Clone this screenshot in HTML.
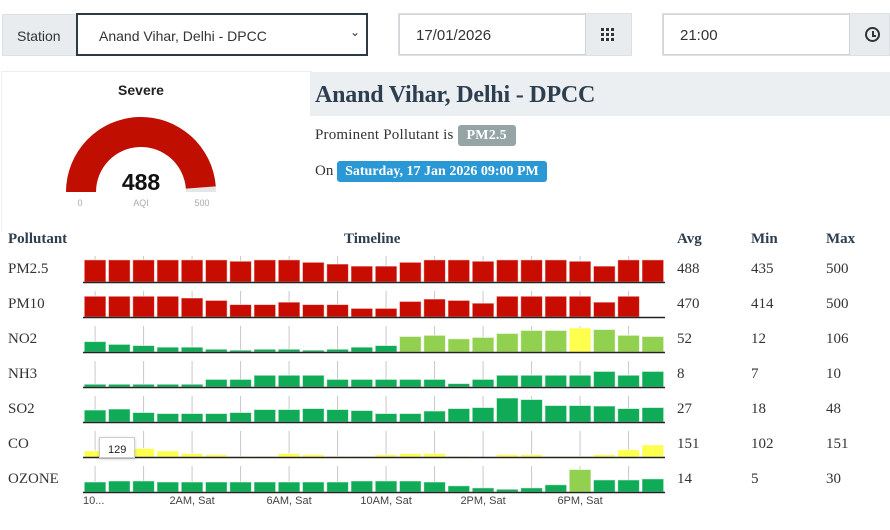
<!DOCTYPE html>
<html><head><meta charset="utf-8">
<style>
body{margin:0;width:890px;height:530px;background:#fff;overflow:hidden;position:relative;font-family:"Liberation Serif",serif;color:#222}
.abs{position:absolute}
.grp{background:#e9ecef;border:1px solid #dde1e5;box-sizing:border-box}
.inp{background:#fff;border:1px solid #ced4da;box-sizing:border-box;font-size:15px;padding:12px 0 0 16px;font-family:"Liberation Sans",sans-serif;color:#333}
.hd{font-weight:bold;font-size:15px;color:#2c3e50}
.lab{font-size:15px;color:#333}
</style></head><body>
<div class="abs grp" style="left:2px;top:14px;width:76px;height:42px;font-family:'Liberation Sans',sans-serif;font-size:14px;padding:13px 0 0 14px;color:#333">Station</div>
<div class="abs inp" style="left:76px;top:13px;width:292px;height:43px;border:2px solid #2b3a45;font-size:14px;padding:13px 0 0 21px">Anand Vihar, Delhi - DPCC<span style="position:absolute;right:6px;top:10px;font-size:12px">&#8964;</span></div>
<div class="abs grp" style="left:398px;top:13px;width:234px;height:43px"></div>
<div class="abs inp" style="left:399px;top:14px;width:187px;height:41px">17/01/2026</div>
<div class="abs" style="left:601px;top:28px;width:13px;height:13px;background:repeating-linear-gradient(90deg,#333 0 3px,transparent 3px 5px),#fff;-webkit-mask:repeating-linear-gradient(0deg,#000 0 3px,transparent 3px 5px)"></div>
<div class="abs grp" style="left:662px;top:13px;width:228px;height:43px"></div>
<div class="abs inp" style="left:663px;top:14px;width:187px;height:41px">21:00</div>
<div class="abs" style="left:865px;top:27px;width:11px;height:11px;border:2px solid #333;border-radius:50%"><div style="position:absolute;left:5px;top:2px;width:2px;height:5px;background:#333"></div><div style="position:absolute;left:5px;top:6px;width:4px;height:2px;background:#333"></div></div>

<div class="abs" style="left:1px;top:71px;width:310px;height:160px;border:1px solid #eee;border-bottom:none;border-right:none"></div>
<div class="abs" style="left:91px;top:82px;width:100px;text-align:center;font-family:'Liberation Sans',sans-serif;font-weight:bold;font-size:14px">Severe</div>
<svg class="abs" style="left:0;top:110px" width="300" height="110">
<path d="M66 82 A75 75 0 0 1 216 82 L186 82 A45 45 0 0 0 96 82 Z" fill="#e6e6e6"/>
<path id="garc" fill="#c00f00"/>
<text x="141" y="80" text-anchor="middle" font-family="Liberation Sans" font-weight="bold" font-size="23" fill="#111">488</text>
<text x="80" y="96" text-anchor="middle" font-family="Liberation Sans" font-size="9" fill="#aaa">0</text>
<text x="141" y="96" text-anchor="middle" font-family="Liberation Sans" font-size="9" fill="#aaa">AQI</text>
<text x="202" y="96" text-anchor="middle" font-family="Liberation Sans" font-size="9" fill="#aaa">500</text>
</svg>
<div class="abs" style="left:310px;top:72px;width:580px;height:44px;background:#eceff1"></div>
<div class="abs" style="left:315px;top:82px;font-weight:bold;font-size:24px;color:#2c3e50;letter-spacing:-0.2px">Anand Vihar, Delhi - DPCC</div>
<div class="abs lab" style="left:315px;top:127px;letter-spacing:0.2px">Prominent Pollutant is <span style="background:#95a5a6;color:#fff;font-weight:bold;padding:3px 9px;border-radius:3px;font-size:14px">PM2.5</span></div>
<div class="abs lab" style="left:315px;top:163px">On <span style="background:#2b98d6;color:#fff;font-weight:bold;padding:3px 8px;border-radius:3px;font-size:14px">Saturday, 17 Jan 2026 09:00 PM</span></div>

<div class="abs hd" style="left:8px;top:231px">Pollutant</div>
<div class="abs hd" style="left:344px;top:231px">Timeline</div>
<div class="abs hd" style="left:677px;top:231px">Avg</div>
<div class="abs hd" style="left:751px;top:231px">Min</div>
<div class="abs hd" style="left:826px;top:231px">Max</div>
<div id="rows"></div>
<svg id="chart" class="abs" style="left:0;top:0" width="890" height="530"></svg>
<div class="abs" style="left:99px;top:437px;width:36px;height:21px;background:#fff;border:1px solid #ccc;box-shadow:0 1px 3px rgba(0,0,0,.2);font-family:'Liberation Sans',sans-serif;font-size:11px;padding:6px 0 0 8px;box-sizing:border-box">129</div>
<script>
const aqi = 488, aqiMax = 500;
const pollutants = ["PM2.5","PM10","NO2","NH3","SO2","CO","OZONE"];
const avgVals = [488,470,52,8,27,151,14];
const minVals = [435,414,12,7,18,102,5];
const maxVals = [500,500,106,10,48,151,30];
const pm25 = [500,500,500,500,500,500,469,500,500,445,406,359,359,445,500,500,469,500,500,500,469,359,500,500];
const pm10 = [500,500,500,500,458,400,300,300,358,300,300,208,208,375,433,400,333,500,500,500,500,358,500,0];
const no2 = [45,33,28,21,21,12,8,12,12,8,12,21,28,67,72,57,63,80,93,93,104,97,72,67];
const nh3 = [8,8,8,8,8,22,22,34,34,34,22,22,22,22,22,10,22,34,34,34,34,45,34,45];
const so2 = [24,26,19,17,17,17,19,25,25,27,25,23,17,17,22,27,29,48,45,33,33,32,27,29];
const co = [126,129,136,126,115,110,103,103,115,110,103,103,110,115,115,103,100,110,110,103,103,110,131,151];
const ozone = [29,32,32,29,29,29,29,29,29,29,29,32,32,32,29,18,12,8,12,21,65,35,35,38];
const domainMin = [0,0,0,0,0,100,0];
const domainMax = [586,625,112,75,52,210,75];
const xLabels = ["10...","2AM, Sat","6AM, Sat","10AM, Sat","2PM, Sat","6PM, Sat"];
const series = [pm25,pm10,no2,nh3,so2,co,ozone];

const NS="http://www.w3.org/2000/svg";
const svg=document.getElementById('chart');
(function(){
  const cx=141,cy=82,R=75,r=45;
  const a=Math.PI*(1-aqi/aqiMax);
  const ox=cx+R*Math.cos(a),oy=cy-R*Math.sin(a),ix=cx+r*Math.cos(a),iy=cy-r*Math.sin(a);
  document.getElementById('garc').setAttribute('d',`M${cx-R} ${cy} A${R} ${R} 0 0 1 ${ox} ${oy} L${ix} ${iy} A${r} ${r} 0 0 0 ${cx-r} ${cy} Z`);
})();
const x0=83,x1=665,n=24,step=(x1-x0)/n,bw=step-2.5,plotH=26;
const baselines=[282,317,352,387,422,457,492];
function xScale(i){return x0+i*step+1.2;}
function yScale(v,row){const t=(v-domainMin[row])/(domainMax[row]-domainMin[row]);return baselines[row]-Math.max(0,t)*plotH;}
function colorFor(row,v){
  if(row<=1) return "#c90c00";
  if(row===5) return "#ffff4d";
  if(v>100) return "#ffff4d";
  if(v>50) return "#92d050";
  return "#0fab57";
}
function mk(tag,attrs){const e=document.createElementNS(NS,tag);for(const k in attrs)e.setAttribute(k,attrs[k]);svg.appendChild(e);return e;}
const rowsDiv=document.getElementById('rows');
pollutants.forEach((p,row)=>{
  const b=baselines[row];
  [[p,8,'pollutant-label'],[avgVals[row],677,'avg-value'],[minVals[row],751,'min-value'],[maxVals[row],826,'max-value']].forEach(([t,x,nm])=>{
    const d=document.createElement('div');d.className='abs lab';d.style.left=x+'px';d.style.top=(b-21)+'px';d.textContent=t;
    
    
    rowsDiv.appendChild(d);
  });
  for(let i=0;i<n;i+=2){
    const cxp=xScale(i)+bw/2;
    const l=mk('line',{x1:cxp,x2:cxp,y1:b,y2:b-plotH,stroke:'#c8c8c8','stroke-width':1});
    
    
  }
  series[row].forEach((v,i)=>{
    const y=yScale(v,row);
    if(b-y<0.5) return;
    const r=mk('rect',{x:xScale(i),y:y,width:bw,height:b-y,fill:colorFor(row,v),stroke:'rgba(255,255,255,0.6)','stroke-width':1});
    
    
  });
  const ax=mk('line',{x1:x0,x2:x1,y1:b+0.5,y2:b+0.5,stroke:'#222','stroke-width':1.5});
  
  
});
xLabels.forEach((t,k)=>{
  const i=k*4;
  const cxp=xScale(i)+bw/2;
  const tx=mk('text',{x:k===0?x0:cxp,y:504,'text-anchor':k===0?'start':'middle','font-family':'Liberation Sans','font-size':11,fill:'#444'});
  tx.textContent=t;
  
  
});
</script>
</body></html>
